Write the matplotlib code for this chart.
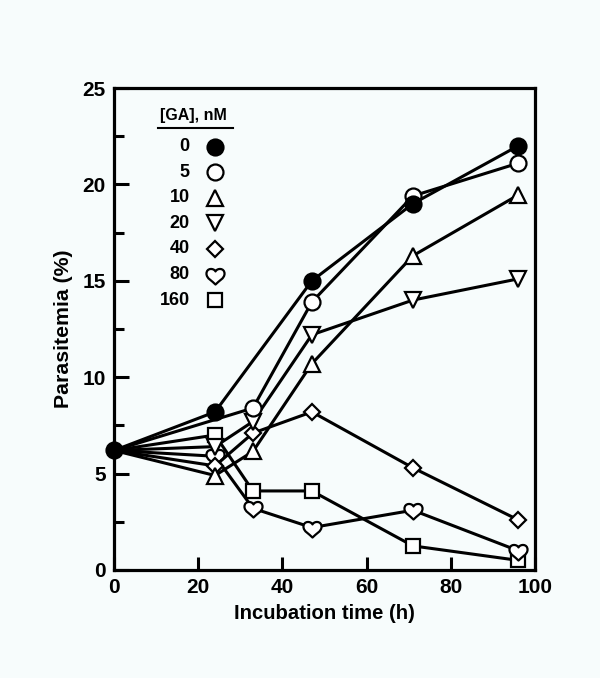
import numpy as np
import matplotlib
matplotlib.use("Agg")
import matplotlib.pyplot as plt
from matplotlib.path import Path

plt.rcParams['font.family'] = ['Liberation Sans', 'DejaVu Sans']
plt.rcParams['font.weight'] = 'bold'

# [GA] concentrations (nM) and the series
concentrations = ['0', '5', '10', '20', '40', '80', '160']

t_0 = [0, 24, 47, 71, 96]
p_0 = [6.2, 8.2, 15.0, 19.0, 22.0]

t_5 = [0, 33, 47, 71, 96]
p_5 = [6.2, 8.4, 13.9, 19.4, 21.1]

t_10 = [0, 24, 33, 47, 71, 96]
p_10 = [6.2, 4.9, 6.15, 10.7, 16.3, 19.45]

t_20 = [0, 24, 33, 47, 71, 96]
p_20 = [6.2, 6.4, 7.7, 12.2, 14.0, 15.1]

t_40 = [0, 24, 33, 47, 71, 96]
p_40 = [6.2, 5.4, 7.1, 8.2, 5.3, 2.6]

t_80 = [0, 24, 33, 47, 71, 96]
p_80 = [6.2, 5.9, 3.2, 2.2, 3.1, 1.0]

t_160 = [0, 24, 33, 47, 71, 96]
p_160 = [6.2, 7.0, 4.1, 4.1, 1.25, 0.5]

# heart-shaped marker (point down)
heart_verts = [(0, -1.0),
               (-0.35, -0.6), (-1.0, -0.35), (-1.0, 0.2),
               (-1.0, 0.85), (-0.2, 0.85), (0, 0.45),
               (0.2, 0.85), (1.0, 0.85), (1.0, 0.2),
               (1.0, -0.35), (0.35, -0.6), (0, -1.0),
               (0, -1.0)]
heart_codes = [Path.MOVETO] + [Path.CURVE4] * 12 + [Path.CLOSEPOLY]
heart = Path(heart_verts, heart_codes)

series = [
    (t_0, p_0, 'o', 'black', 11.5),
    (t_5, p_5, 'o', 'white', 11.5),
    (t_10, p_10, '^', 'white', 11.5),
    (t_20, p_20, 'v', 'white', 11.5),
    (t_40, p_40, 'D', 'white', 8.5),
    (t_80, p_80, heart, 'white', 13),
    (t_160, p_160, 's', 'white', 10),
]

bg = '#f7fcfc'
fig = plt.figure(figsize=(6.0, 6.78), dpi=100, facecolor=bg)
ax = fig.add_axes([0.19, 0.1593, 0.7017, 0.7109], facecolor=bg)

# draw in reverse so the 0 nM series sits on top; the shared 0 h point
# only shows the filled circle
for i, (t, p, m, fc, ms) in reversed(list(enumerate(series))):
    every = None if i == 0 else slice(1, None)
    ax.plot(t, p, color='black', lw=2.2, marker=m, markersize=ms,
            markerfacecolor=fc, markeredgecolor='black', markeredgewidth=1.6,
            markevery=every, clip_on=False, zorder=3)

ax.set_xlim(0, 100)
ax.set_ylim(0, 25)
ax.set_xticks([0, 20, 40, 60, 80, 100])
ax.set_yticks([0, 5, 10, 15, 20, 25])
ax.set_yticks(np.arange(2.5, 25, 5), minor=True)
ax.tick_params(axis='both', which='major', direction='in', width=2.2,
               labelsize=15, pad=6)
ax.tick_params(axis='x', which='major', length=9.5)
ax.tick_params(axis='y', which='major', length=11)
ax.tick_params(axis='y', which='minor', direction='in', length=7.5, width=2.2)
for s in ax.spines.values():
    s.set_linewidth(2.3)

ax.set_xlabel('Incubation time (h)', fontsize=14.6, fontweight='bold', labelpad=5)
ax.set_ylabel('Parasitemia (%)', fontsize=15.3, fontweight='bold', labelpad=7)

# hand-drawn legend
ax.text(0.188, 0.942, '[GA], nM', transform=ax.transAxes, ha='center', va='center',
        fontsize=11.5, fontweight='bold')
ax.plot([0.105, 0.283], [0.918, 0.918], transform=ax.transAxes, color='black', lw=1.5)
row_y = 0.878
for label, (t, p, m, fc, ms) in zip(concentrations, series):
    ax.text(0.18, row_y, label, transform=ax.transAxes, ha='right', va='center',
            fontsize=13, fontweight='bold')
    ax.plot([0.24], [row_y], transform=ax.transAxes, marker=m, markersize=ms,
            markerfacecolor=fc, markeredgecolor='black', markeredgewidth=1.6,
            linestyle='none')
    row_y -= 0.053

fig.savefig('out.png', dpi=100, facecolor=bg)
